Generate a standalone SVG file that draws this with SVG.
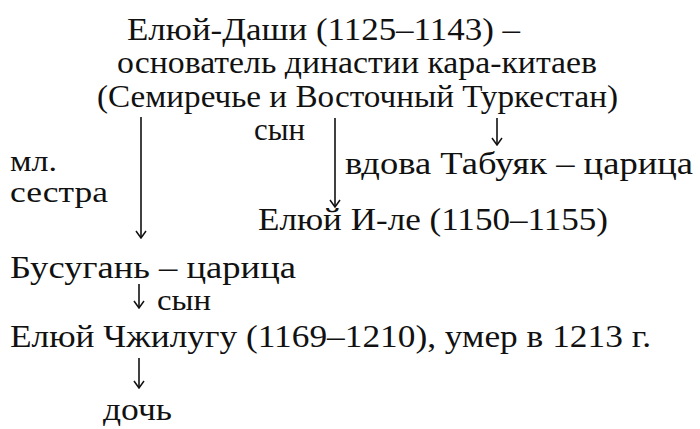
<svg xmlns="http://www.w3.org/2000/svg" width="700" height="429" viewBox="0 0 700 429">
<defs>
<style>
text{font-family:"Liberation Serif","DejaVu Serif",serif;font-size:31px;fill:#111;}
.s{font-size:30px;}
.c{stroke:#111;stroke-width:1.6;fill:none;}
</style>
<marker id="ah" viewBox="-8 -6 9 12" refX="0" refY="0" markerWidth="9" markerHeight="12" markerUnits="userSpaceOnUse" orient="auto">
<path d="M-7,-5 L0,0 L-7,5" fill="none" stroke="#111" stroke-width="1.5"/>
</marker>
</defs>
<rect width="700" height="429" fill="#fff"/>
<g id="root">
<text x="127" y="40" textLength="393" lengthAdjust="spacingAndGlyphs">Елюй-Даши (1125–1143) –</text>
<text x="117" y="73" textLength="480" lengthAdjust="spacingAndGlyphs">основатель династии кара-китаев</text>
<text x="97" y="107" textLength="521" lengthAdjust="spacingAndGlyphs">(Семиречье и Восточный Туркестан)</text>
</g>
<g id="busugan">
<text x="10" y="278" textLength="286" lengthAdjust="spacingAndGlyphs">Бусугань – царица</text>
</g>
<g id="tabuyak">
<text x="345" y="174" textLength="348" lengthAdjust="spacingAndGlyphs">вдова Табуяк – царица</text>
</g>
<g id="yile">
<text x="258" y="230" textLength="350" lengthAdjust="spacingAndGlyphs">Елюй И-ле (1150–1155)</text>
</g>
<g id="zhilugu">
<text x="10" y="347" textLength="641" lengthAdjust="spacingAndGlyphs">Елюй Чжилугу (1169–1210), умер в 1213 г.</text>
</g>
<g id="doch">
<text x="103" y="420" textLength="69" lengthAdjust="spacingAndGlyphs">дочь</text>
</g>
<g id="connectors">
<line class="c" x1="141" y1="117" x2="141" y2="238" marker-end="url(#ah)"/>
<line class="c" x1="335" y1="118" x2="335" y2="207" marker-end="url(#ah)"/>
<line class="c" x1="497" y1="118" x2="497" y2="145" marker-end="url(#ah)"/>
<line class="c" x1="139" y1="284" x2="139" y2="308" marker-end="url(#ah)"/>
<line class="c" x1="139" y1="358" x2="139" y2="388" marker-end="url(#ah)"/>
</g>
<g id="labels">
<text class="s" x="10" y="171" textLength="47" lengthAdjust="spacingAndGlyphs">мл.</text>
<text class="s" x="10" y="202" textLength="98" lengthAdjust="spacingAndGlyphs">сестра</text>
<text x="254" y="140" textLength="51" lengthAdjust="spacingAndGlyphs">сын</text>
<text class="s" x="157" y="310" textLength="54" lengthAdjust="spacingAndGlyphs">сын</text>
</g>
</svg>
